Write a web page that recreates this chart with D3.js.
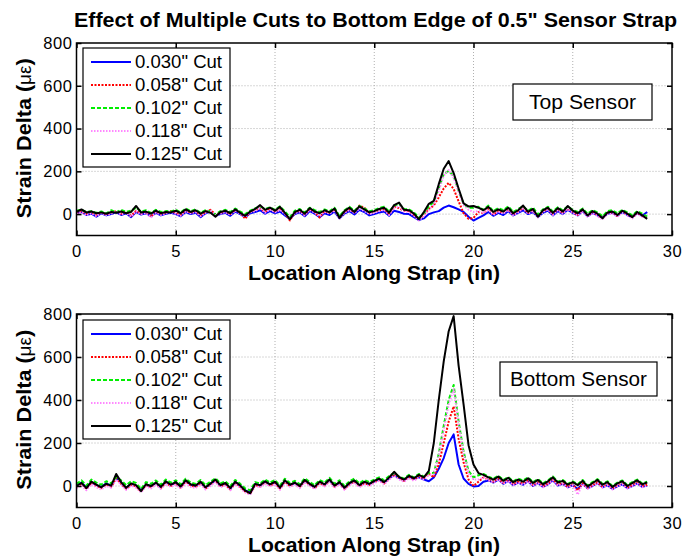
<!DOCTYPE html>
<html><head><meta charset="utf-8">
<script src="https://cdn.jsdelivr.net/npm/d3@7/dist/d3.min.js"></script>
<style>body{margin:0;background:#fff}svg{display:block}text{font-family:"Liberation Sans",Arial,sans-serif}</style>
</head><body>
<svg id="c" width="682" height="556"></svg>
<script>
const titleText = "Effect of Multiple Cuts to Bottom Edge of 0.5\" Sensor Strap";
const xLabel = "Location Along Strap (in)";
const yLabel = "Strain Delta (\u03bc\u03b5)";
const seriesNames = ["0.030\" Cut","0.058\" Cut","0.102\" Cut","0.118\" Cut","0.125\" Cut"];
const xTicks = [0,5,10,15,20,25,30];
const yTicks = [0,200,400,600,800];
const panelNames = ["Top Sensor","Bottom Sensor"];

const positions = [0,0.25,0.5,0.75,1,1.25,1.5,1.75,2,2.25,2.5,2.75,3,3.25,3.5,3.75,4,4.25,4.5,4.75,
5,5.25,5.5,5.75,6,6.25,6.5,6.75,7,7.25,7.5,7.75,8,8.25,8.5,8.75,9,9.25,9.5,9.75,
10,10.25,10.5,10.75,11,11.25,11.5,11.75,12,12.25,12.5,12.75,13,13.25,13.5,13.75,14,14.25,14.5,14.75,
15,15.25,15.5,15.75,16,16.25,16.5,16.75,17,17.25,17.5,17.75,18,18.25,18.5,18.75,19,19.25,19.5,19.75,
20,20.25,20.5,20.75,21,21.25,21.5,21.75,22,22.25,22.5,22.75,23,23.25,23.5,23.75,24,24.25,24.5,24.75,
25,25.25,25.5,25.75,26,26.25,26.5,26.75,27,27.25,27.5,27.75,28,28.25,28.5,28.75];

// Top sensor
const top030 = [6,10,-4,2,-12,4,-6,0,8,-4, 4,-14,10,-2,4,-10,6,-6,2,6, 0,-10,10,0,6,-14,4,12,-8,0, 6,-8,12,0,-14,4,10,18,2,14,
4,12,-6,-22,0,8,-10,14,2,-14, 4,-4,12,-20,2,14,-2,20,10,-6, 0,8,12,-8,16,10,2,0,-14,-28, -20,0,8,14,30,40,32,22,10,-12,
-30,-18,-6,10,-8,6,-4,14,-6,6, 18,0,10,-14,6,16,-6,14,0,20, 6,-6,14,-10,6,-6,-16,2,6,-8, 10,-4,-14,4,-8,10];
const top058 = [4,14,0,8,-6,10,-2,6,14,2, 8,-8,16,2,10,-12,12,0,6,14, 6,-4,18,6,14,-6,10,20,-2,6, 14,0,20,6,-22,12,18,26,10,28,
12,24,4,-30,8,16,-2,24,10,-16, 14,6,22,-14,10,24,8,40,30,4, 10,18,24,0,34,28,14,14,-4,-20, -6,24,40,78,120,146,118,60,4,-22,
-18,10,4,24,-2,16,6,22,-2,12, 28,6,16,-10,14,24,0,20,6,26, 10,-4,18,-8,10,-4,-18,4,8,-8, 12,-2,-16,6,-8,-18];
const top102 = [16,20,10,14,6,12,4,18,8,20, 10,16,30,12,18,6,20,10,14,12, 20,8,26,14,22,6,18,12,-2,14, 20,10,26,12,0,16,28,34,24,32,
20,36,12,-14,16,24,8,30,18,10, 22,14,30,-10,18,34,16,38,26,14, 18,28,34,12,40,48,24,22,8,-16, 4,36,56,120,186,202,178,110,48,30,
30,34,20,40,14,28,18,36,10,24, 36,16,30,-2,22,34,12,32,18,36, 20,10,26,2,18,8,-10,14,18,4, 20,8,-6,14,2,-12];
const top118 = [2,10,-6,4,-10,6,-4,2,12,-2, 6,-12,14,0,6,-16,8,-4,4,10, 2,-8,14,4,10,-10,6,16,-6,2, 10,-4,16,2,-12,8,14,30,6,22,
8,20,0,-20,4,12,-6,20,6,-10, 10,2,18,-22,6,20,4,26,14,0, 6,14,20,-4,30,36,12,10,-8,-30, -10,20,44,110,180,206,170,104,42,20,
10,14,6,20,-4,12,2,20,-6,8, 26,2,14,-16,10,22,-4,18,2,24, 6,-8,14,-14,6,-10,-26,0,4,-12, 8,-6,-20,2,-12,-16];
const top125 = [10,22,8,12,4,8,2,10,6,12, 4,10,38,8,12,2,16,4,10,8, 16,4,22,10,18,2,14,6,-12,10, 16,4,22,6,-8,12,24,42,20,30,
16,34,6,-24,10,20,2,28,12,4, 18,8,26,-18,14,30,10,36,22,8, 14,24,30,6,42,54,20,18,2,-24, 10,48,62,140,212,248,192,120,50,36,
38,30,18,34,10,22,12,30,4,18, 40,10,24,-12,18,30,6,28,12,38, 16,4,22,-6,14,2,-20,8,12,-4, 16,2,-14,10,-6,-22];

// Bottom sensor
const bot030 = [4,16,-8,18,4,-4,12,0,40,14, -10,10,2,-20,6,-2,14,-6,20,4, 16,-4,24,6,0,18,-8,10,26,2, 12,-12,18,0,-20,-30,8,2,20,6,
18,-8,24,4,14,-2,26,8,-6,18, 6,28,0,16,-10,12,24,2,18,8, 22,30,16,36,50,38,26,44,32,40, 30,22,40,80,130,200,240,100,35,10,
-2,0,20,26,16,30,10,24,4,16, 6,22,0,14,-4,8,26,2,10,-6, 4,-14,10,-10,0,14,-6,4,-14,-2, 8,-10,0,12,-4,2];
const bot058 = [-4,10,-14,14,0,-10,6,-4,36,10, -14,6,-2,-26,2,-6,10,-10,16,0, 12,-8,20,2,-4,14,-12,6,24,-2, 8,-16,14,-4,-26,-36,4,-2,16,2,
14,-12,20,0,10,-6,22,4,-10,14, 2,24,-4,12,-14,8,20,-2,14,4, 18,28,12,34,54,36,24,42,30,46, 34,58,40,100,200,300,370,220,110,30,
0,20,40,30,20,36,14,28,8,20, 10,26,4,18,-2,12,30,6,14,-4, 8,-20,14,-10,4,18,-4,8,-12,2, 12,-8,4,16,-2,6];
const bot102 = [10,26,2,30,16,6,22,12,40,26, 4,22,14,-14,18,10,26,6,30,16, 26,8,34,16,10,28,4,20,36,12, 22,0,28,10,-12,-20,18,12,30,16,
28,2,34,14,24,8,36,18,4,28, 16,38,10,26,0,22,34,12,28,18, 30,40,26,46,60,44,34,52,40,56, 44,62,60,150,280,400,470,300,160,70,
40,50,56,44,34,48,28,42,22,34, 26,40,18,32,12,26,44,20,28,10, 22,8,28,2,18,32,10,22,0,16, 26,4,18,30,12,20];
const bot118 = [-10,4,-20,8,-6,-16,0,-8,30,6, -18,2,-8,-30,-2,-12,6,-14,10,-4, 6,-12,14,-4,-10,8,-16,0,18,-6, 4,-20,10,-10,-30,-40,0,-6,12,-2,
8,-18,16,-4,6,-10,18,0,-14,10, -2,20,-8,8,-18,4,16,-6,10,0, 14,24,8,30,48,30,20,36,24,40, 30,50,55,140,260,380,450,290,150,60,
30,30,40,26,16,30,10,24,4,16, 6,22,0,14,-6,8,26,2,10,-8, 4,-40,10,-14,0,14,-8,4,-16,-2, 8,-12,0,12,-6,2];
const bot125 = [0,14,-10,20,6,-6,10,2,56,18, -8,12,4,-24,8,0,16,-4,22,6, 18,-2,26,8,2,20,-6,12,30,4, 14,-10,20,2,-22,-34,10,4,22,8,
20,-8,26,6,16,0,28,10,-4,20, 8,30,2,18,-8,14,26,4,20,10, 24,34,18,40,66,42,30,48,36,52, 40,70,200,400,580,720,790,560,380,190,
100,60,52,40,30,44,24,38,18,30, 20,36,14,28,8,22,40,16,24,6, 18,4,24,-2,14,28,6,18,-4,12, 22,0,14,26,8,16];

const panels = [
  {name: panelNames[0], series: [top030, top058, top102, top118, top125]},
  {name: panelNames[1], series: [bot030, bot058, bot102, bot118, bot125]}
];

const styles = [
  {color:"#0000ff", dash:null, w:2},
  {color:"#ff0000", dash:"2,1.5", w:2},
  {color:"#00ee00", dash:"4,2", w:2},
  {color:"#ff88ff", dash:"1.5,1.5", w:2},
  {color:"#000000", dash:null, w:2}
];

const svg = d3.select("#c");
svg.append("text").attr("x", 375.5).attr("y", 27).attr("text-anchor","middle")
  .attr("font-size", 21).attr("font-weight","bold")
  .attr("textLength", 603).attr("lengthAdjust","spacingAndGlyphs").text(titleText);

const x = d3.scaleLinear().domain([0,30]).range([76.5, 672]);
const layouts = [
  {top:43, bottom:235.5, legTop:48, box:{x:513,y:84,w:139,h:36,tl:107}},
  {top:314, bottom:507.5, legTop:320, box:{x:500,y:362,w:157,h:34,tl:137}}
];

panels.forEach((p, pi) => {
  const L = layouts[pi];
  const y = d3.scaleLinear().domain([-100,800]).range([L.bottom, L.top]);
  const g = svg.append("g");
  const clipId = "clip"+pi;
  svg.append("clipPath").attr("id", clipId).append("rect")
    .attr("x", x(0)).attr("y", L.top).attr("width", x(30)-x(0)).attr("height", L.bottom-L.top);

  g.selectAll(".gx").data(xTicks.slice(1,-1)).join("line")
    .attr("x1", d=>x(d)).attr("x2", d=>x(d)).attr("y1", L.top).attr("y2", L.bottom)
    .attr("stroke","#b0b0b0").attr("stroke-width",1).attr("stroke-dasharray","1,2");
  g.selectAll(".gy").data(yTicks.slice(0,-1)).join("line")
    .attr("x1", x(0)).attr("x2", x(30)).attr("y1", d=>y(d)).attr("y2", d=>y(d))
    .attr("stroke","#b0b0b0").attr("stroke-width",1).attr("stroke-dasharray","1,2");

  const lg = g.append("g").attr("clip-path", `url(#${clipId})`);
  const line = d3.line().x((d,i)=>x(positions[i])).y(d=>y(d));
  p.series.forEach((s, si) => {
    const st = styles[si];
    lg.append("path").datum(s).attr("d", line).attr("fill","none")
      .attr("stroke", st.color).attr("stroke-width", st.w)
      .attr("stroke-linejoin","round")
      .attr("stroke-dasharray", st.dash);
  });

  const ax = g.append("g").attr("transform", `translate(0,${L.bottom})`)
    .call(d3.axisBottom(x).tickValues(xTicks).tickSize(-5).tickPadding(10).tickFormat(d3.format("d")));
  const axT = g.append("g").attr("transform", `translate(0,${L.top})`)
    .call(d3.axisTop(x).tickValues(xTicks).tickSize(-5).tickFormat(""));
  const ay = g.append("g").attr("transform", `translate(${x(0)},0)`)
    .call(d3.axisLeft(y).tickValues(yTicks).tickSize(-5).tickPadding(4).tickFormat(d3.format("d")));
  const ayR = g.append("g").attr("transform", `translate(${x(30)},0)`)
    .call(d3.axisRight(y).tickValues(yTicks).tickSize(-5).tickFormat(""));
  [ax, axT, ay, ayR].forEach(a => {
    a.select(".domain").remove();
    a.selectAll(".tick line").attr("stroke","#000").attr("stroke-width",1.5);
    a.selectAll("text").attr("font-size", 16.5).attr("fill","#000").attr("letter-spacing", 0.6)
      .attr("font-family",'"Liberation Sans",Arial,sans-serif');
  });
  g.append("rect").attr("x", x(0)).attr("y", L.top).attr("width", x(30)-x(0)).attr("height", L.bottom-L.top)
    .attr("fill","none").attr("stroke","#000").attr("stroke-width",1.5);

  g.append("text").attr("x", 374).attr("y", L.bottom+44.5).attr("text-anchor","middle")
    .attr("font-size", 21).attr("font-weight","bold")
    .attr("textLength", 252).attr("lengthAdjust","spacingAndGlyphs").text(xLabel);
  const yl = g.append("text").attr("transform", `translate(31,${(L.top+L.bottom)/2 - 1}) rotate(-90)`)
    .attr("text-anchor","middle").attr("font-size", 20.5).attr("font-weight","bold")
    .attr("textLength", 160).attr("lengthAdjust","spacingAndGlyphs");
  yl.append("tspan").text("Strain Delta (");
  yl.append("tspan").attr("font-weight","normal").attr("font-size", 18).text("\u03bc\u03b5");
  yl.append("tspan").text(")");

  const lgd = g.append("g");
  lgd.append("rect").attr("x", 83).attr("y", L.legTop).attr("width", 147).attr("height", 119)
    .attr("fill","#fff").attr("stroke","#000").attr("stroke-width",1.2);
  seriesNames.forEach((n, si) => {
    const yy = L.legTop + 14 + si*23;
    const st = styles[si];
    lgd.append("line").attr("x1", 91).attr("x2", 131).attr("y1", yy).attr("y2", yy)
      .attr("stroke", st.color).attr("stroke-width", st.w).attr("stroke-dasharray", st.dash);
    lgd.append("text").attr("x", 135).attr("y", yy+6).attr("font-size", 17.5)
      .attr("textLength", 87).attr("lengthAdjust","spacingAndGlyphs").text(n);
  });

  g.append("rect").attr("x", L.box.x).attr("y", L.box.y).attr("width", L.box.w).attr("height", L.box.h)
    .attr("fill","#fff").attr("stroke","#000").attr("stroke-width",1.2);
  g.append("text").attr("x", L.box.x + L.box.w/2).attr("y", L.box.y + L.box.h/2 + 7)
    .attr("text-anchor","middle").attr("font-size", 20)
    .attr("textLength", L.box.tl).attr("lengthAdjust","spacingAndGlyphs").text(p.name);
});
</script>
</body></html>
